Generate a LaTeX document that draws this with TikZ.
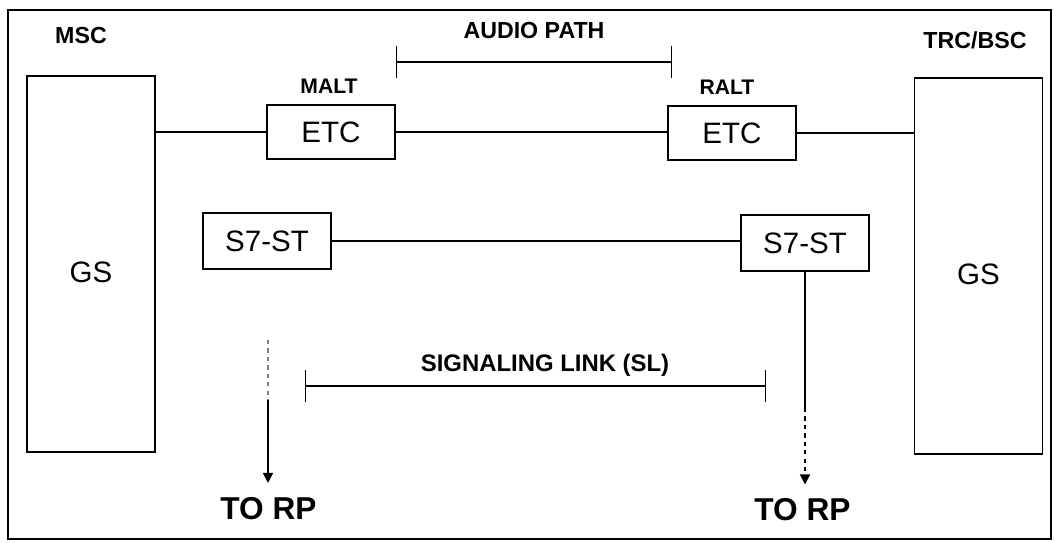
\documentclass[tikz,border=0pt]{standalone}
\usepackage{fontspec}
\setmainfont{Liberation Sans}
\usetikzlibrary{arrows.meta}

\begin{document}
\begin{tikzpicture}[x=0.025cm, y=-0.025cm,
		box/.style={draw, line width=1.1pt, inner sep=0pt, font=\fontsize{21}{21}\selectfont},
		etcbox/.style={box, minimum width=3.2cm, minimum height=1.35cm},
		gsbox/.style={box, minimum width=3.2cm, minimum height=9.4cm},
		tag/.style={font=\bfseries\fontsize{16.5}{16.5}\selectfont},
		rptag/.style={font=\bfseries\fontsize{22.5}{22.5}\selectfont, inner xsep=0pt, inner ysep=10pt},
		link/.style={line width=0.9pt},
		spanbar/.style={line width=0.9pt, {Bar[width=0.8cm]}-{Bar[width=0.8cm]}},
		feed/.style={line width=0.9pt, -{Triangle[length=2.5mm, width=2.5mm]}}]
		\useasboundingbox (0,0) rectangle (1054,542);
		\draw[line width=0.9pt] (8,10) rectangle (1051,539);

		% switching side and radio side
		\node[gsbox] (gsL) at (91,264) {\raisebox{-0.465cm}[0pt][0pt]{GS}};
		\node[gsbox] (gsR) at (978.5,266) {\raisebox{-0.465cm}[0pt][0pt]{GS}};
		\node[tag] (msc) at (81,36) {MSC};
		\node[tag] (trc) at (975,40) {TRC/BSC};

		% audio path
		\node[etcbox] (etcL) at (331,132) {ETC};
		\node[etcbox] (etcR) at (732,133) {ETC};
		\node[tag, font=\bfseries\fontsize{15}{15}\selectfont] (malt) at (329,86) {MALT};
		\node[tag, font=\bfseries\fontsize{15}{15}\selectfont] (ralt) at (727,87) {RALT};
		\node[tag] (audio) at (534,31) {AUDIO PATH};
		\coordinate (apL) at (396,62);
		\coordinate (apR) at (672,62);
		\draw[spanbar] (apL) -- (apR);
		\draw[link] (gsL.east |- etcL.west) -- (etcL.west);
		\draw[link] (etcL.east) -- (etcL.east -| etcR.west);
		\draw[link] (etcR.east) -- (etcR.east -| gsR.west);

		% signaling link
		\node[etcbox, minimum height=1.4cm] (s7L) at (267,241) {S7-ST};
		\node[etcbox, minimum height=1.4cm] (s7R) at (805,243) {S7-ST};
		\draw[link] (s7L.east |- 0,241) -- (s7R.west |- 0,241);
		\node[tag, font=\bfseries\fontsize{17}{17}\selectfont] (sl) at (545,365) {SIGNALING LINK (SL)};
		\coordinate (slL) at (305,386);
		\coordinate (slR) at (766,386);
		\draw[spanbar] (slL) -- (slR);

		% to RP
		\node[rptag] (rpL) at (268.5,508.5) {TO RP};
		\node[rptag] (rpR) at (802.5,510) {TO RP};
		\coordinate (srcL) at (268,340);
		\coordinate (brkL) at (268,400);
		\coordinate (brkR) at (805,408);
		\draw[link, dashed, gray] (srcL) -- (brkL);
		\draw[feed] (brkL) -- (brkL |- rpL.north);
		\draw[link] (s7R.south) -- (brkR);
		\draw[feed, dashed] (brkR) -- (brkR |- rpR.north);
	\end{tikzpicture}
\end{document}
